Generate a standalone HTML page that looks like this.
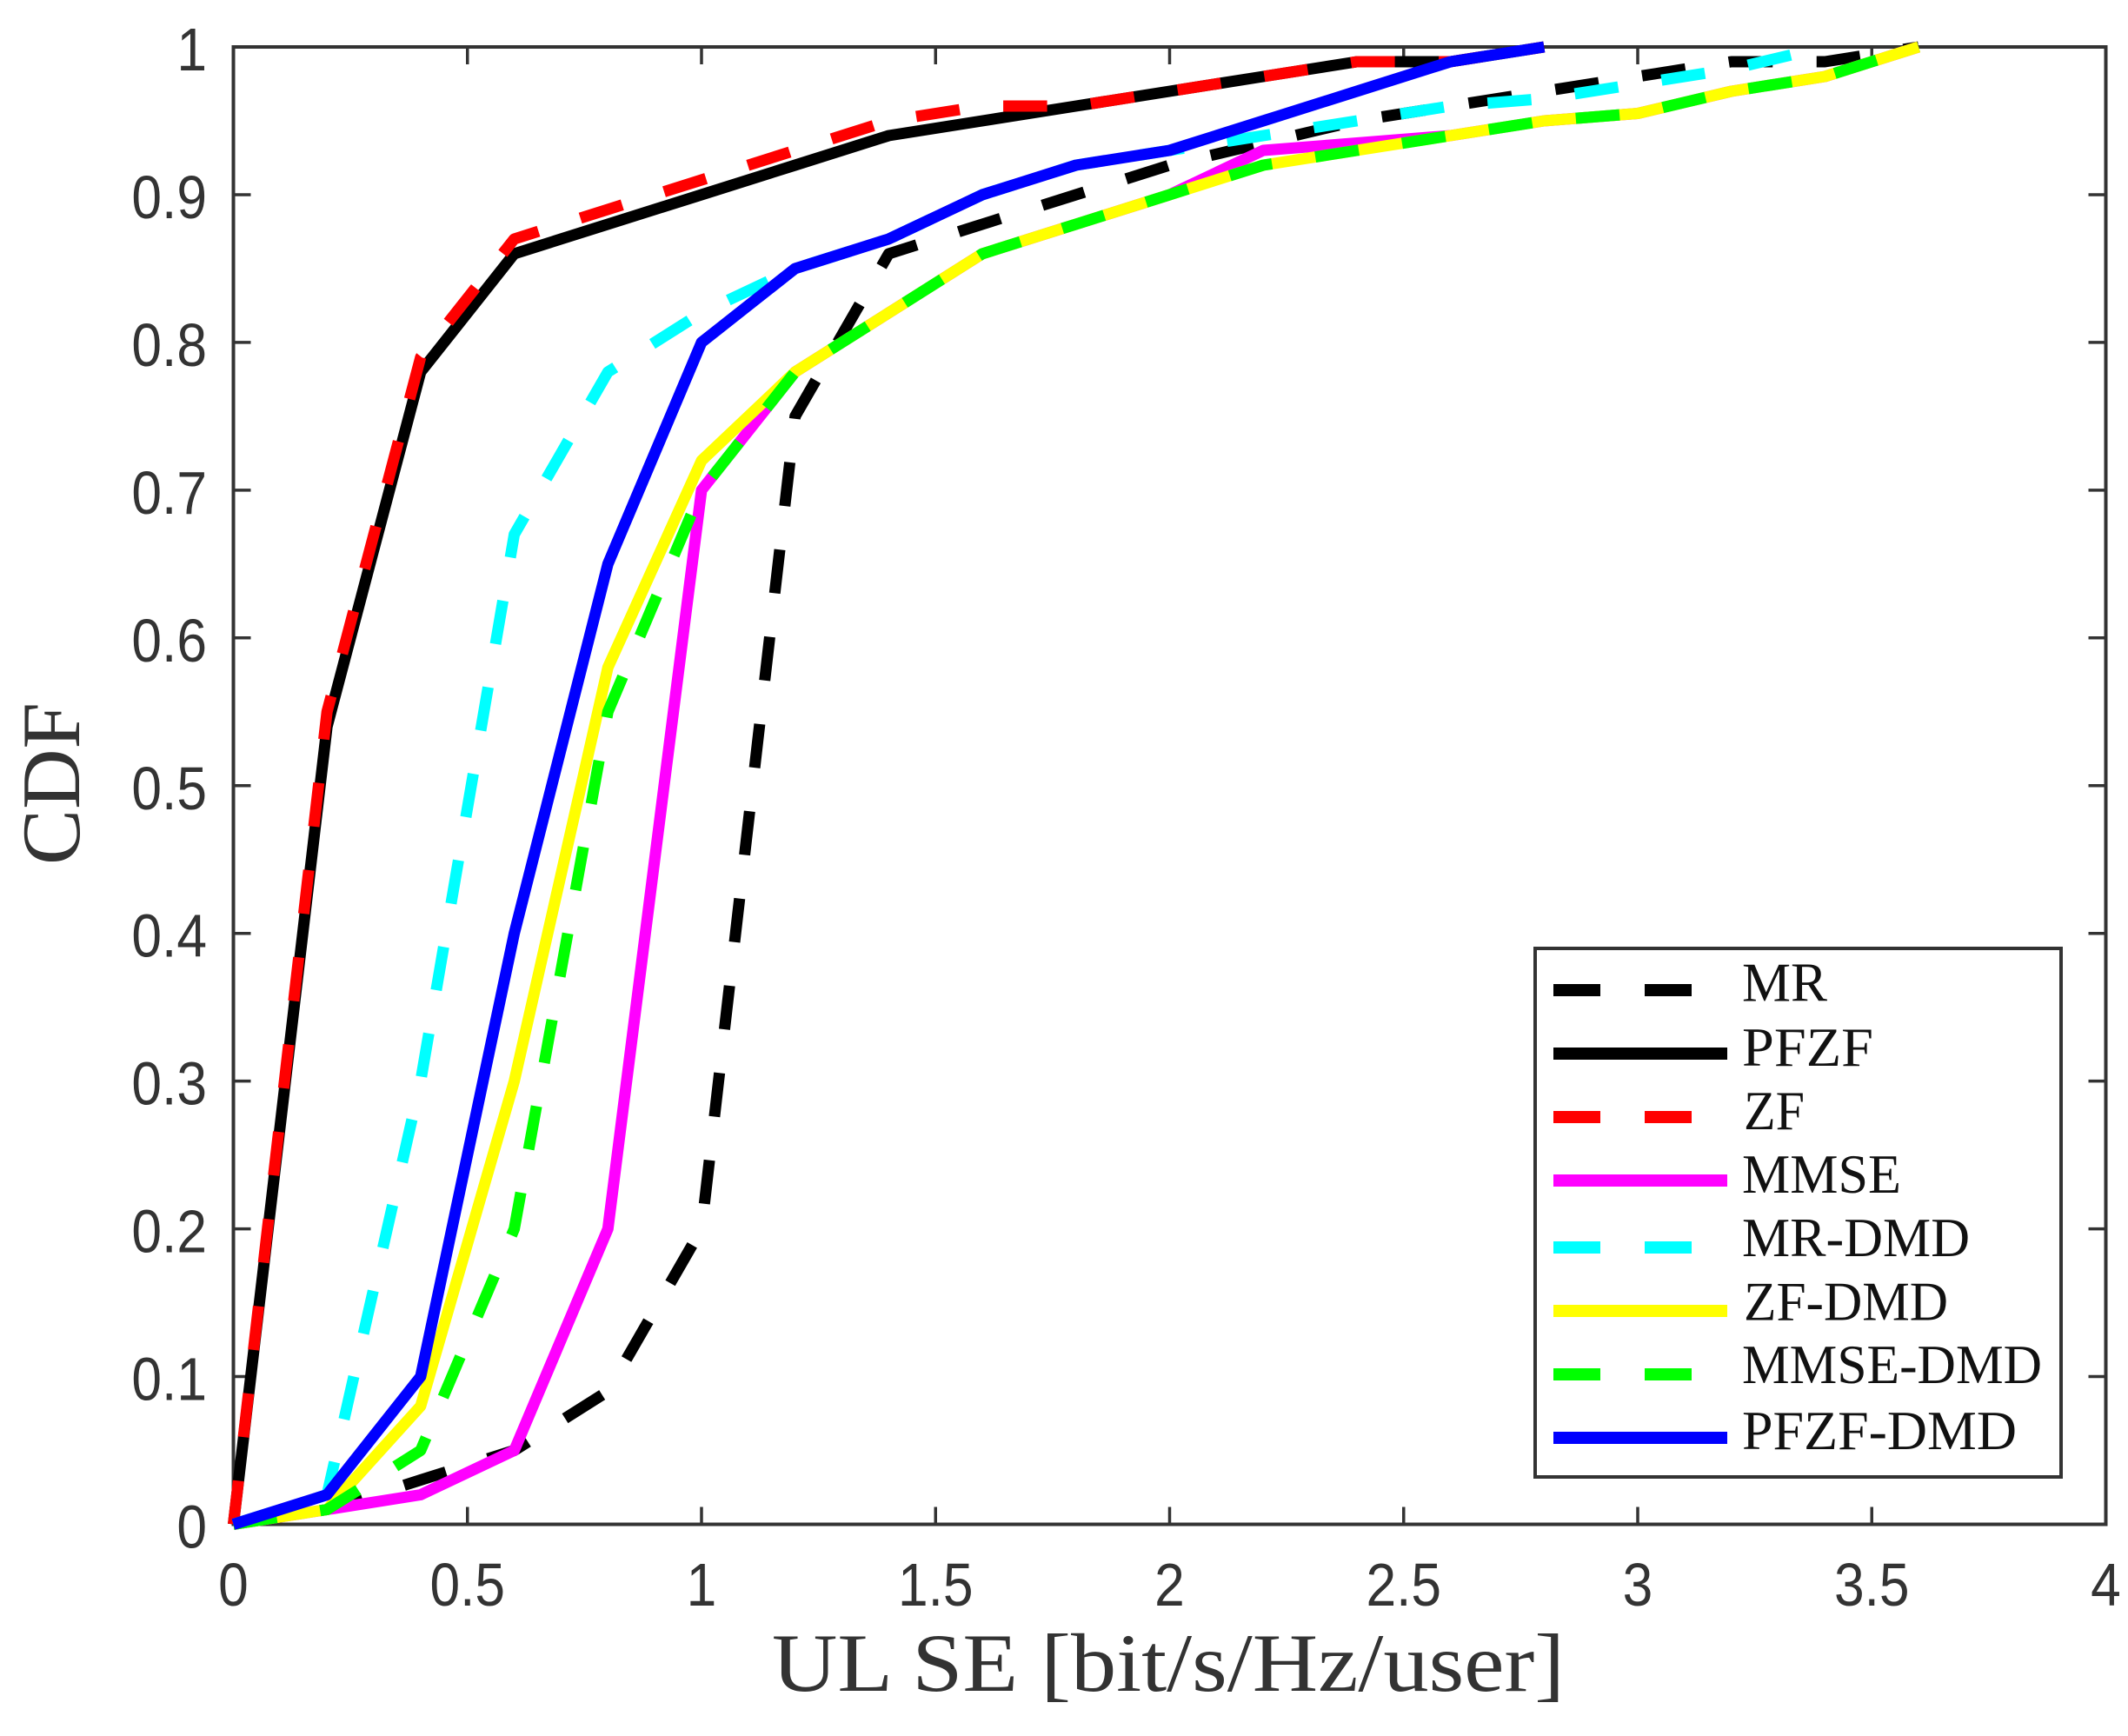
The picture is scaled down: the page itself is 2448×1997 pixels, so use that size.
<!DOCTYPE html>
<html lang="en">
<head>
<meta charset="utf-8">
<title>CDF of UL SE</title>
<style>
  html, body { margin: 0; padding: 0; background: #fff; }
  svg { display: block; }
  .tick { font-family: "Liberation Sans", sans-serif; font-size: 70px; fill: #333; }
  .serif { font-family: "Liberation Serif", serif; }
  .axis-title { font-size: 95px; fill: #333; }
  .legend-text { font-size: 64px; fill: #111; }
</style>
</head>
<body>
<svg id="chart" xmlns="http://www.w3.org/2000/svg" width="2448" height="1997" viewBox="0 0 2448 1997">
  <rect x="0" y="0" width="2448" height="1997" fill="#fff"/>
  <rect x="268.5" y="54" width="2154" height="1699.5" fill="none" stroke="#333" stroke-width="4"/>
  <g id="ticks"></g>
  <g id="series"></g>
  <text class="serif axis-title" x="888" y="1945" textLength="912" lengthAdjust="spacingAndGlyphs">UL SE [bit/s/Hz/user]</text>
  <text class="serif axis-title" transform="translate(91,995) rotate(-90)" x="0" y="0" textLength="187" lengthAdjust="spacingAndGlyphs">CDF</text>
  <g>
    <rect x="1766" y="1091" width="605" height="608" fill="#fff" stroke="#333" stroke-width="4"/>
    <g>
      <line x1="1787" y1="1139" x2="1987" y2="1139" stroke="#000" stroke-width="14" stroke-dasharray="54 51"/>
      <text class="serif legend-text" x="2004" y="1151.5" textLength="98" lengthAdjust="spacingAndGlyphs">MR</text>
    </g>
    <g>
      <line x1="1787" y1="1212" x2="1987" y2="1212" stroke="#000" stroke-width="14"/>
      <text class="serif legend-text" x="2004" y="1226" textLength="151" lengthAdjust="spacingAndGlyphs">PFZF</text>
    </g>
    <g>
      <line x1="1787" y1="1285" x2="1987" y2="1285" stroke="#f00" stroke-width="14" stroke-dasharray="54 51"/>
      <text class="serif legend-text" x="2006" y="1299" textLength="70" lengthAdjust="spacingAndGlyphs">ZF</text>
    </g>
    <g>
      <line x1="1787" y1="1358" x2="1987" y2="1358" stroke="#f0f" stroke-width="14"/>
      <text class="serif legend-text" x="2004" y="1372" textLength="183" lengthAdjust="spacingAndGlyphs">MMSE</text>
    </g>
    <g>
      <line x1="1787" y1="1435" x2="1987" y2="1435" stroke="#0ff" stroke-width="14" stroke-dasharray="54 51"/>
      <text class="serif legend-text" x="2004" y="1445" textLength="262" lengthAdjust="spacingAndGlyphs">MR-DMD</text>
    </g>
    <g>
      <line x1="1787" y1="1508" x2="1987" y2="1508" stroke="#ff0" stroke-width="14"/>
      <text class="serif legend-text" x="2006" y="1518.5" textLength="235" lengthAdjust="spacingAndGlyphs">ZF-DMD</text>
    </g>
    <g>
      <line x1="1787" y1="1581" x2="1987" y2="1581" stroke="#0f0" stroke-width="14" stroke-dasharray="54 51"/>
      <text class="serif legend-text" x="2004" y="1591" textLength="345" lengthAdjust="spacingAndGlyphs">MMSE-DMD</text>
    </g>
    <g>
      <line x1="1787" y1="1654" x2="1987" y2="1654" stroke="#00f" stroke-width="14"/>
      <text class="serif legend-text" x="2004" y="1667" textLength="316" lengthAdjust="spacingAndGlyphs">PFZF-DMD</text>
    </g>
  </g>
</svg>
<script>
const xTickValues = [0, 0.5, 1, 1.5, 2, 2.5, 3, 3.5, 4];
const xTickLabels = ['0', '0.5', '1', '1.5', '2', '2.5', '3', '3.5', '4'];
const yTickValues = [0, 0.1, 0.2, 0.3, 0.4, 0.5, 0.6, 0.7, 0.8, 0.9, 1];
const yTickLabels = ['0', '0.1', '0.2', '0.3', '0.4', '0.5', '0.6', '0.7', '0.8', '0.9', '1'];

const mrX = [0, 0.2, 0.4, 0.6, 0.8, 1, 1.2, 1.4, 1.6, 1.8, 2, 2.2, 2.4, 2.6, 2.8, 3, 3.2, 3.4, 3.6];
const mrY = [0, 0.01, 0.03, 0.05, 0.09, 0.2, 0.75, 0.86, 0.88, 0.9, 0.92, 0.935, 0.95, 0.96, 0.97, 0.98, 0.99, 0.99, 1];

const pfzfX = [0, 0.2, 0.4, 0.6, 0.8, 1, 1.2, 1.4, 1.6, 1.8, 2, 2.2, 2.4, 2.6, 2.8];
const pfzfY = [0, 0.54, 0.78, 0.86, 0.88, 0.9, 0.92, 0.94, 0.95, 0.96, 0.97, 0.98, 0.99, 0.99, 1];

const zfX = [0, 0.2, 0.4, 0.6, 0.8, 1, 1.2, 1.4, 1.6, 1.8, 2, 2.2, 2.4, 2.6, 2.8];
const zfY = [0, 0.55, 0.79, 0.87, 0.89, 0.91, 0.93, 0.95, 0.96, 0.96, 0.97, 0.98, 0.99, 0.99, 1];

const mmseX = [0, 0.2, 0.4, 0.6, 0.8, 1, 1.2, 1.4, 1.6, 1.8, 2, 2.2, 2.4, 2.6, 2.8, 3, 3.2, 3.4, 3.6];
const mmseY = [0, 0.01, 0.02, 0.05, 0.2, 0.7, 0.78, 0.82, 0.86, 0.88, 0.9, 0.93, 0.935, 0.94, 0.95, 0.955, 0.97, 0.98, 1];

const mrDmdX = [0, 0.2, 0.4, 0.6, 0.8, 1, 1.2, 1.4, 1.6, 1.8, 2, 2.2, 2.4, 2.6, 2.8, 3, 3.2, 3.4];
const mrDmdY = [0, 0.02, 0.3, 0.67, 0.78, 0.82, 0.85, 0.87, 0.9, 0.92, 0.93, 0.94, 0.95, 0.96, 0.965, 0.975, 0.985, 1];

const zfDmdX = [0, 0.2, 0.4, 0.6, 0.8, 1, 1.2, 1.4, 1.6, 1.8, 2, 2.2, 2.4, 2.6, 2.8, 3, 3.2, 3.4, 3.6];
const zfDmdY = [0, 0.01, 0.08, 0.3, 0.58, 0.72, 0.78, 0.82, 0.86, 0.88, 0.9, 0.92, 0.93, 0.94, 0.95, 0.955, 0.97, 0.98, 1];

const mmseDmdX = [0, 0.2, 0.4, 0.6, 0.8, 1, 1.2, 1.4, 1.6, 1.8, 2, 2.2, 2.4, 2.6, 2.8, 3, 3.2, 3.4, 3.6];
const mmseDmdY = [0, 0.01, 0.05, 0.2, 0.55, 0.7, 0.78, 0.82, 0.86, 0.88, 0.9, 0.92, 0.93, 0.94, 0.95, 0.955, 0.97, 0.98, 1];

const pfzfDmdX = [0, 0.2, 0.4, 0.6, 0.8, 1, 1.2, 1.4, 1.6, 1.8, 2, 2.2, 2.4, 2.6, 2.8];
const pfzfDmdY = [0, 0.02, 0.1, 0.4, 0.65, 0.8, 0.85, 0.87, 0.9, 0.92, 0.93, 0.95, 0.97, 0.99, 1];

const SVG_NS = 'http://www.w3.org/2000/svg';
const plotLeft = 268.5, plotRight = 2422.5, plotTop = 54, plotBottom = 1753.5;
const xMax = 4, yMax = 1;
function sx(v) { return plotLeft + (v / xMax) * (plotRight - plotLeft); }
function sy(v) { return plotBottom - (v / yMax) * (plotBottom - plotTop); }

const ticksGroup = document.getElementById('ticks');
const seriesGroup = document.getElementById('series');

function tickMark(x1, y1, x2, y2, name) {
  const l = document.createElementNS(SVG_NS, 'line');
  l.setAttribute('x1', x1); l.setAttribute('y1', y1);
  l.setAttribute('x2', x2); l.setAttribute('y2', y2);
  l.setAttribute('stroke', '#333');
  l.setAttribute('stroke-width', 3.5);
  
  
  ticksGroup.appendChild(l);
}

function tickText(x, y, anchor, label, name) {
  const t = document.createElementNS(SVG_NS, 'text');
  t.setAttribute('class', 'tick');
  t.setAttribute('text-anchor', anchor);
  t.setAttribute('transform', 'translate(' + x + ',' + y + ') scale(0.89,1)');
  t.textContent = label;
  
  
  ticksGroup.appendChild(t);
}

xTickValues.forEach(function (v, i) {
  const x = sx(v);
  if (i > 0 && i < xTickValues.length - 1) {
    tickMark(x, plotBottom, x, plotBottom - 20, 'x-tick-mark');
    tickMark(x, plotTop, x, plotTop + 20, 'x-tick-mark-top');
  }
  tickText(x, 1847, 'middle', xTickLabels[i], 'x-tick-label');
});

yTickValues.forEach(function (v, i) {
  const y = sy(v);
  if (i > 0 && i < yTickValues.length - 1) {
    tickMark(plotLeft, y, plotLeft + 20, y, 'y-tick-mark');
    tickMark(plotRight, y, plotRight - 20, y, 'y-tick-mark-right');
  }
  tickText(238, y + 27, 'end', yTickLabels[i], 'y-tick-label');
});

function drawSeries(name, xs, ys, color, dashed) {
  const p = document.createElementNS(SVG_NS, 'polyline');
  p.setAttribute('points', xs.map(function (x, i) { return sx(x).toFixed(1) + ',' + sy(ys[i]).toFixed(1); }).join(' '));
  p.setAttribute('fill', 'none');
  p.setAttribute('stroke', color);
  p.setAttribute('stroke-width', 13);
  p.setAttribute('stroke-linejoin', 'round');
  if (dashed) p.setAttribute('stroke-dasharray', '50.5 50.5');
  
  
  seriesGroup.appendChild(p);
}

drawSeries('series-mr', mrX, mrY, '#000', true);
drawSeries('series-pfzf', pfzfX, pfzfY, '#000', false);
drawSeries('series-zf', zfX, zfY, '#f00', true);
drawSeries('series-mmse', mmseX, mmseY, '#f0f', false);
drawSeries('series-mr-dmd', mrDmdX, mrDmdY, '#0ff', true);
drawSeries('series-zf-dmd', zfDmdX, zfDmdY, '#ff0', false);
drawSeries('series-mmse-dmd', mmseDmdX, mmseDmdY, '#0f0', true);
drawSeries('series-pfzf-dmd', pfzfDmdX, pfzfDmdY, '#00f', false);
</script>
</body>
</html>
